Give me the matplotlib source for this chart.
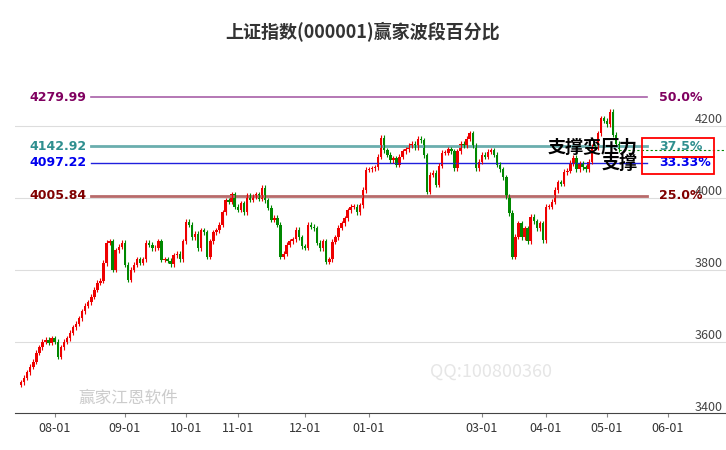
import numpy as np
import pandas as pd
import matplotlib
matplotlib.use('Agg')
from matplotlib import pyplot as plt
from matplotlib.patches import Rectangle

plt.rcParams['font.family'] = ['Noto Sans CJK SC', 'DejaVu Sans']

# daily closes (Jul 17 2023 .. May 2024)
closes = [
    # Jul
    3488, 3500, 3515, 3530, 3545, 3570, 3585, 3600, 3605, 3598, 3610,
    # Aug
    3600, 3558, 3585, 3600, 3610, 3625, 3640, 3650, 3665, 3685, 3700, 3710,
    3725, 3745, 3764, 3770, 3819, 3875, 3880, 3800, 3855, 3864, 3875,
    # Sep
    3814, 3772, 3800, 3814, 3830, 3820, 3830, 3875, 3870, 3860, 3862, 3880,
    3828, 3830, 3825, 3815, 3840, 3845, 3830, 3880,
    # Oct
    3933, 3925, 3890, 3900, 3860, 3910, 3905, 3836, 3880, 3905, 3910, 3925,
    3960, 3994, 3990, 4010, 3975,
    # Nov
    3967, 3985, 3960, 4008, 3995, 4005, 4010, 3998, 4028, 3994, 3972, 3939,
    3945, 3925, 3836, 3845, 3870, 3880, 3885, 3911, 3890, 3865,
    # Dec
    3862, 3925, 3920, 3915, 3875, 3860, 3880, 3822, 3830, 3878, 3890, 3917,
    3930, 3944, 3965, 3975, 3975, 3960, 3980,
    # Jan - Feb
    4022, 4078, 4080, 4083, 4085, 4114, 4167, 4133, 4120, 4105, 4110, 4092,
    4115, 4130, 4135, 4145, 4150, 4140, 4165, 4160, 4119, 4017, 4064, 4070,
    4036, 4090, 4125, 4125, 4135, 4130, 4083, 4130, 4150, 4145, 4165, 4180,
    4145, 4083, 4100, 4120,
    # Mar - May
    4114, 4128, 4133, 4120, 4092, 4080, 4058, 4003, 3958, 3836, 3892, 3930,
    3890, 3915, 3880, 3947, 3935, 3915, 3930, 3883, 3975, 3975, 3990, 4022,
    4044, 4040, 4072, 4075, 4097, 4111, 4080, 4095, 4085, 4080, 4100, 4142,
    4140, 4180, 4222, 4215, 4205, 4239, 4175, 4150, 4135,
]
first_open = 3480
wick = 7

levels = [4279.99, 4142.92, 4097.22, 4005.84]
level_pcts = ['50.0%', '37.5%', '33.33%', '25.0%']
level_txt = ['#800060', '#2f8f8f', '#0000ee', '#800000']
level_line = ['#a860a8', '#6aaeae', '#2020dd', '#b86a6a']
level_lw = [1.2, 2.0, 1.0, 2.0]

y_ticks = [3400, 3600, 3800, 4000, 4200]
current = 4132

# trading calendar (index based x axis)
holidays = pd.to_datetime(['2023-09-29', '2023-10-02', '2023-10-03', '2023-10-04',
                           '2023-10-05', '2023-10-06', '2024-01-01', '2024-02-09',
                           '2024-02-12', '2024-02-13', '2024-02-14', '2024-02-15',
                           '2024-02-16', '2024-04-04', '2024-04-05', '2024-05-01',
                           '2024-05-02', '2024-05-03'])
days = pd.bdate_range('2023-07-17', '2024-06-30')
days = days[~days.isin(holidays)]
month_first = pd.Series(range(len(days)), index=days).groupby(days.to_period('M')).first()
month_first = month_first.iloc[1:]  # skip partial July
month_first = month_first[month_first.index.month != 2]  # no Feb label on the chart

fig = plt.figure(figsize=(7.26, 4.5), dpi=100)
ax = fig.add_axes([15/726, 37/450, 711/726, 373/450])

opens = [first_open] + closes[:-1]
for i, (o, c) in enumerate(zip(opens, closes)):
    col = '#ee0000' if c >= o else '#008800'
    ax.vlines(i, min(o, c) - wick, max(o, c) + wick, color=col, lw=0.8)
    h = max(abs(c - o), 2)
    ax.add_patch(Rectangle((i - 0.4, min(o, c)), 0.8, h, color=col, lw=0))

for yt in y_ticks:
    ax.axhline(yt, color='#dddddd', lw=0.8, zorder=0)
    ax.text(0.995, yt + 18, str(yt), transform=ax.get_yaxis_transform(),
            ha='right', va='center', fontsize=9, color='#444444')

for lv, pct, tc, lc, lw in zip(levels, level_pcts, level_txt, level_line, level_lw):
    ax.plot([23, 205], [lv, lv], color=lc, lw=lw, zorder=1)
    ax.text(21.5, lv, f'{lv:.2f}', ha='right', va='center', fontsize=9,
            color=tc, fontweight='bold', family='DejaVu Sans')
    ax.text(209, lv, pct, ha='left', va='center', fontsize=9,
            color=tc, fontweight='bold', family='DejaVu Sans')

ax.plot([len(closes) - 1, 240], [current, current], color='#008800', lw=0.8,
        ls=(0, (2, 2)))
ax.add_patch(Rectangle((203.5, 4114), 23.5, 52, fill=False, ec='red', lw=1.3, zorder=5))
ax.add_patch(Rectangle((203.5, 4067), 23.5, 47, fill=False, ec='red', lw=1.3, zorder=5))
ax.text(202, 4139, '支撑变压力', ha='right', va='center', fontsize=13,
        fontweight='bold', color='black', zorder=6)
ax.text(202, 4097, '支撑', ha='right', va='center', fontsize=13,
        fontweight='bold', color='black', zorder=6)

ax.text(0.67, 0.11, 'QQ:100800360', transform=ax.transAxes, fontsize=13,
        color='#e6e6e6', ha='center', va='center', zorder=0)
ax.text(0.16, 0.04, '赢家江恩软件', transform=ax.transAxes, fontsize=12,
        color='#cccccc', ha='center', va='center', zorder=0)

ax.set_xlim(-2, 231)
ax.set_ylim(3402, 4439)
ax.set_xticks(month_first.values)
ax.set_xticklabels([p.strftime('%m-01') for p in month_first.index], fontsize=9)
ax.set_yticks([])
ax.tick_params(axis='x', length=3, color='#888888', labelcolor='#333333')
for s in ['top', 'right', 'left']:
    ax.spines[s].set_visible(False)
ax.spines['bottom'].set_color('#444444')

fig.suptitle('上证指数(000001)赢家波段百分比', y=0.95, fontsize=13, fontweight='bold',
             color='#333333')
fig.savefig('out.png', dpi=100)
